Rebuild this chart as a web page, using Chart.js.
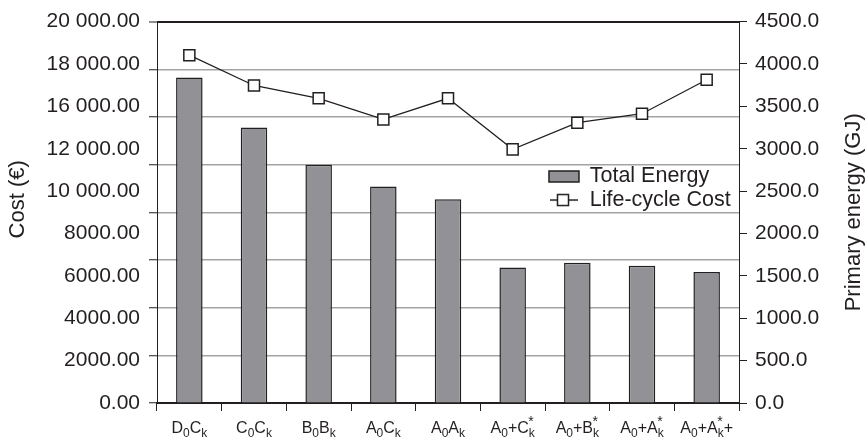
<!DOCTYPE html>
<html>
<head>
<meta charset="utf-8">
<script src="https://cdn.jsdelivr.net/npm/chart.js@4.4.1/dist/chart.umd.min.js"></script>
<style>
  html, body { margin: 0; padding: 0; background: #fff; }
</style>
</head>
<body>
<canvas id="chart" width="868" height="444"></canvas>
<script>
// Scenarios and their results
const categories = ['D₀Cₖ', 'C₀Cₖ', 'B₀Bₖ', 'A₀Cₖ', 'A₀Aₖ', 'A₀+Cₖ*', 'A₀+Bₖ*', 'A₀+Aₖ*', 'A₀+Aₖ*+'];
const totalEnergyGJ = [3840, 3250, 2810, 2555, 2405, 1600, 1655, 1620, 1545];
const lifeCycleCostEUR = [18240, 16650, 15980, 14870, 15980, 13300, 14700, 15170, 16950];

// Printed axis labels (evenly spread along each side)
const costTickLabels = ['0.00', '2000.00', '4000.00', '6000.00', '8000.00', '10 000.00', '12 000.00', '16 000.00', '18 000.00', '20 000.00'];
const energyTickLabels = ['0.0', '500.0', '1000.0', '1500.0', '2000.0', '2500.0', '3000.0', '3500.0', '4000.0', '4500.0'];

const costAxisTitle = 'Cost (€)';
const energyAxisTitle = 'Primary energy (GJ)';

const FONT = "'Liberation Sans', Arial, 'DejaVu Sans', sans-serif";
const INK = '#231f20';
const GRID = '#a3a3a3';
const BAR_FILL = '#929296';

Chart.defaults.font.family = FONT;
Chart.defaults.color = INK;

// Legend swatch for the line series: a short line through a square marker
function lineSwatch() {
  const c = document.createElement('canvas');
  c.width = 30; c.height = 14;
  const g = c.getContext('2d');
  g.strokeStyle = INK;
  g.lineWidth = 1.5;
  g.beginPath(); g.moveTo(1, 7); g.lineTo(29, 7); g.stroke();
  g.fillStyle = '#fff';
  g.fillRect(8.5, 1.5, 11, 11);
  g.strokeRect(8.5, 1.5, 11, 11);
  return c;
}
const lineLegendImage = lineSwatch();

// Places the legend inside the plot, right of centre
const legendPlacer = {
  id: 'legendPlacer',
  afterLayout(chart) {
    const a = chart.chartArea;
    const lg = chart.legend;
    const pad = lg.options.labels.padding;
    lg.left = a.left + (a.right - a.left) * 0.6735 - pad;
    lg.top = a.top + (a.bottom - a.top) * 0.378 - pad;
  }
};

// Vertical axis titles, both reading bottom-to-top
const axisTitles = {
  id: 'axisTitles',
  afterDraw(chart) {
    const { ctx, chartArea: a, width } = chart;
    ctx.save();
    ctx.fillStyle = INK;
    ctx.font = '22px ' + FONT;
    ctx.textAlign = 'center';
    ctx.textBaseline = 'middle';
    const put = (text, x, y) => {
      ctx.save();
      ctx.translate(x, y);
      ctx.rotate(-Math.PI / 2);
      ctx.fillText(text, 0, 0);
      ctx.restore();
    };
    const midY = (a.top + a.bottom) / 2;
    put(costAxisTitle, 18, midY - 13);
    put(energyAxisTitle, width - 14, midY);
    ctx.restore();
  }
};

// Category labels with true subscripts (₀, ₖ) and a star stacked above the subscript
const SUB = { '₀': '0', 'ₖ': 'k' };
const richTickLabels = {
  id: 'richTickLabels',
  afterDraw(chart) {
    const { ctx } = chart;
    const xs = chart.scales.x;
    const base = 16, small = 12, star = 14;
    const baseline = xs.top + 30;
    ctx.save();
    ctx.fillStyle = INK;
    ctx.textBaseline = 'alphabetic';
    ctx.textAlign = 'left';
    categories.forEach((label, i) => {
      const runs = [];
      let lastSubX = null;
      let w = 0;
      for (const ch of label) {
        if (SUB[ch]) {
          ctx.font = small + 'px ' + FONT;
          const t = SUB[ch];
          runs.push({ t, size: small, dx: w, dy: 4 });
          lastSubX = w;
          w += ctx.measureText(t).width;
        } else if (ch === '*' && lastSubX !== null) {
          runs.push({ t: '*', size: star, dx: lastSubX - 0.5, dy: -7 });
        } else {
          ctx.font = base + 'px ' + FONT;
          runs.push({ t: ch, size: base, dx: w, dy: 0 });
          lastSubX = null;
          w += ctx.measureText(ch).width;
        }
      }
      const x0 = xs.getPixelForTick(i) - w / 2;
      runs.forEach(r => {
        ctx.font = r.size + 'px ' + FONT;
        ctx.fillText(r.t, x0 + r.dx, baseline + r.dy);
      });
    });
    ctx.restore();
  }
};

const LEFT_LABEL_W = 149;
const RIGHT_LABEL_W = 121;
const TICK_W = 8;

new Chart(document.getElementById('chart'), {
  data: {
    labels: categories,
    datasets: [
      {
        type: 'bar',
        label: 'Total Energy',
        data: totalEnergyGJ,
        yAxisID: 'y1',
        backgroundColor: BAR_FILL,
        borderColor: INK,
        borderWidth: 1.5,
        barPercentage: 0.82,
        categoryPercentage: 0.5,
        pointStyle: 'rect',
        order: 1
      },
      {
        type: 'line',
        label: 'Life-cycle Cost',
        data: lifeCycleCostEUR,
        yAxisID: 'y',
        borderColor: INK,
        borderWidth: 1.3,
        tension: 0,
        pointStyle: 'rect',
        pointRadius: 7.8,
        pointHoverRadius: 7.8,
        pointBackgroundColor: '#fff',
        pointBorderColor: INK,
        pointBorderWidth: 1.5,
        order: 0
      }
    ]
  },
  options: {
    responsive: false,
    devicePixelRatio: 1,
    animation: false,
    layout: { padding: { top: 21, left: 0, right: 0, bottom: 0 } },
    plugins: {
      tooltip: { enabled: false },
      legend: {
        position: 'chartArea',
        align: 'start',
        labels: {
          usePointStyle: true,
          pointStyleWidth: 30,
          boxHeight: 11,
          padding: 2,
          color: INK,
          font: { size: 21.5 },
          sort: (a, b) => a.datasetIndex - b.datasetIndex,
          generateLabels(chart) {
            const items = Chart.defaults.plugins.legend.labels.generateLabels(chart);
            return items.map(it => {
              const ds = chart.data.datasets[it.datasetIndex];
              it.pointStyle = ds.type === 'line' ? lineLegendImage : 'rect';
              return it;
            });
          }
        }
      }
    },
    scales: {
      x: {
        type: 'category',
        offset: true,
        grid: {
          display: true,
          offset: true,
          drawOnChartArea: false,
          drawTicks: true,
          tickLength: 8,
          tickColor: INK,
          tickWidth: 1
        },
        border: { display: true, color: INK, width: 2 },
        ticks: { display: false, autoSkip: false, maxRotation: 0 },
        afterFit(s) { s.height = 41; }
      },
      // Cost scale: tick marks and horizontal grid
      y: {
        type: 'linear',
        position: 'left',
        weight: 0,
        min: 0,
        max: 20000,
        ticks: { stepSize: 2500, display: false },
        grid: {
          drawOnChartArea: true,
          drawTicks: true,
          tickLength: TICK_W,
          tickColor: INK,
          tickWidth: 1,
          color: c => c.tick.value === 0 ? 'rgba(0,0,0,0)' : (c.tick.value === 20000 ? INK : GRID),
          lineWidth: c => c.tick.value === 20000 ? 2 : 1.5
        },
        border: { display: true, color: INK, width: 1 },
        afterFit(s) { s.width = TICK_W; }
      },
      // Printed cost labels
      yLab: {
        type: 'linear',
        position: 'left',
        weight: 1,
        min: 0,
        max: costTickLabels.length - 1,
        ticks: {
          stepSize: 1,
          padding: 9,
          font: { size: 21 },
          color: INK,
          callback: v => costTickLabels[v]
        },
        grid: { display: false, drawTicks: false },
        border: { display: false },
        afterFit(s) { s.width = LEFT_LABEL_W; }
      },
      // Energy scale: tick marks only
      y1: {
        type: 'linear',
        position: 'right',
        weight: 0,
        min: 0,
        max: 4500,
        ticks: { stepSize: 500, display: false },
        grid: {
          drawOnChartArea: false,
          drawTicks: true,
          tickLength: TICK_W,
          tickColor: INK,
          tickWidth: 1
        },
        border: { display: true, color: INK, width: 1 },
        afterFit(s) { s.width = TICK_W; }
      },
      // Printed energy labels
      y1Lab: {
        type: 'linear',
        position: 'right',
        weight: 1,
        min: 0,
        max: energyTickLabels.length - 1,
        ticks: {
          stepSize: 1,
          padding: 8,
          font: { size: 21 },
          color: INK,
          callback: v => energyTickLabels[v]
        },
        grid: { display: false, drawTicks: false },
        border: { display: false },
        afterFit(s) { s.width = RIGHT_LABEL_W; }
      }
    }
  },
  plugins: [legendPlacer, axisTitles, richTickLabels]
});
</script>
</body>
</html>
